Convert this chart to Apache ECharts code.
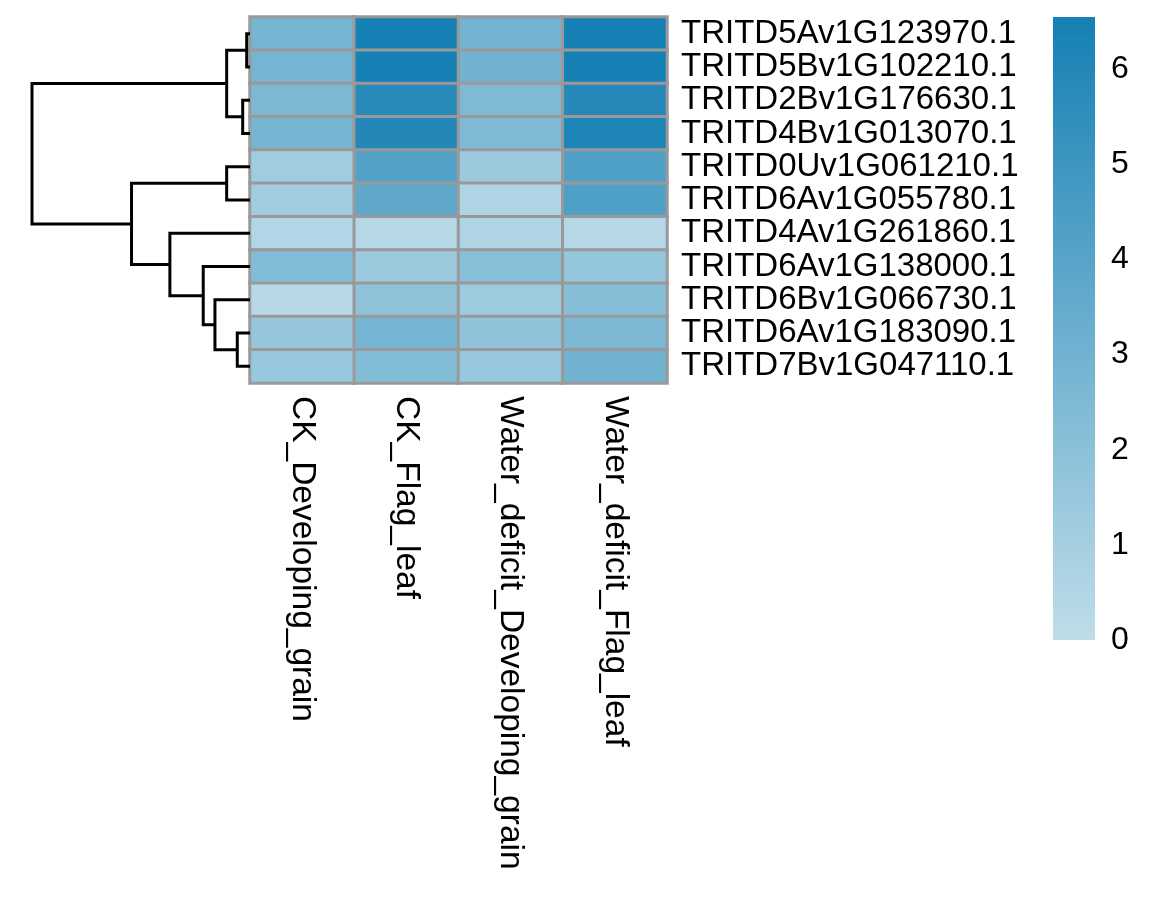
<!DOCTYPE html>
<html>
<head>
<meta charset="utf-8">
<script src="https://cdn.jsdelivr.net/npm/echarts@6/dist/echarts.min.js"></script>
<style>
html,body{margin:0;padding:0;background:#fff;}
#chart{width:1172px;height:898px;}
</style>
</head>
<body>
<div id="chart"></div>
<script>
// ---- data ----
var samples = ['CK_Developing_grain', 'CK_Flag_leaf', 'Water_deficit_Developing_grain', 'Water_deficit_Flag_leaf'];
var genes = ['TRITD5Av1G123970.1','TRITD5Bv1G102210.1','TRITD2Bv1G176630.1','TRITD4Bv1G013070.1','TRITD0Uv1G061210.1','TRITD6Av1G055780.1','TRITD4Av1G261860.1','TRITD6Av1G138000.1','TRITD6Bv1G066730.1','TRITD6Av1G183090.1','TRITD7Bv1G047110.1'];
// expression values per gene (row), in sample order
var CK_Developing_grain = [2.8, 2.8, 2.6, 2.8, 1.2, 1.1, 0.5, 2.3, 0.3, 1.6, 1.5];
var CK_Flag_leaf =        [6.5, 6.5, 5.8, 6.0, 4.2, 3.7, 0.4, 1.4, 1.8, 2.8, 2.3];
var WD_Developing_grain = [2.9, 3.0, 2.5, 2.5, 1.4, 0.6, 0.6, 2.1, 1.3, 1.8, 1.5];
var WD_Flag_leaf =        [6.5, 6.5, 5.9, 6.2, 4.3, 4.3, 0.4, 1.7, 2.2, 2.6, 3.0];
var colorTicks = [0, 1, 2, 3, 4, 5, 6];
var colorMax = 6.55;
// row dendrogram (hclust-style merges; negative = leaf in display order, 1-based)
var mergeLeft  = [-1, -3, 1, -5, -10, -9, -8, -7, 4, 3];
var mergeRight = [-2, -4, 2, -6, -11,  5,  6,  7, 8, 9];
var mergeHeight = [3.3, 7.3, 23.3, 23.3, 12.7, 35, 46.7, 80, 118.3, 217.7];

var lowColor = '#bfdde9', highColor = '#1580b4';
var FONT = 'Liberation Sans, Arial, sans-serif';

// build heatmap cells
var columns = [CK_Developing_grain, CK_Flag_leaf, WD_Developing_grain, WD_Flag_leaf];
var heatData = [];
for (var c = 0; c < columns.length; c++) {
  for (var r = 0; r < genes.length; r++) heatData.push([c, r, columns[c][r]]);
}

// build dendrogram links
var nodePos = [], nodeH = [];
function pos(i) { return i < 0 ? (-i - 1) + 0.5 : nodePos[i - 1]; }
function hgt(i) { return i < 0 ? 0 : nodeH[i - 1]; }
var links = [];
for (var m = 0; m < mergeLeft.length; m++) {
  var a = mergeLeft[m], b = mergeRight[m];
  var ya = pos(a), yb = pos(b);
  nodePos.push((ya + yb) / 2);
  nodeH.push(mergeHeight[m]);
  links.push([hgt(a), ya, mergeHeight[m], yb, hgt(b)]);
}

var chart = echarts.init(document.getElementById('chart'));
var option = {
  backgroundColor: '#ffffff',
  animation: false,
  grid: [
    {left: 250, top: 17, width: 417, height: 366},
    {left: 32, top: 17, width: 218, height: 366},
    {left: 1053, top: 17, width: 42, height: 623}
  ],
  xAxis: [
    {type: 'category', gridIndex: 0, data: samples, position: 'bottom',
     axisLine: {show: false}, axisTick: {show: false}, splitLine: {show: false},
     axisLabel: {rotate: -90, fontSize: 33.5, color: '#000', fontFamily: FONT, margin: 13, interval: 0}},
    {type: 'value', gridIndex: 1, min: 0, max: mergeHeight[mergeHeight.length - 1], inverse: true, show: false},
    {type: 'category', gridIndex: 2, data: ['scale'], show: false}
  ],
  yAxis: [
    {type: 'category', gridIndex: 0, data: genes, inverse: true, position: 'right',
     axisLine: {show: false}, axisTick: {show: false}, splitLine: {show: false},
     axisLabel: {fontSize: 33, color: '#000', fontFamily: FONT, margin: 14, interval: 0}},
    {type: 'value', gridIndex: 1, min: 0, max: genes.length, inverse: true, show: false},
    {type: 'value', gridIndex: 2, min: 0, max: colorMax, interval: 1, position: 'right',
     axisLine: {show: false}, axisTick: {show: false}, splitLine: {show: false},
     axisLabel: {fontSize: 32, color: '#000', fontFamily: FONT, margin: 16, showMaxLabel: false,
                 formatter: function (v) { return colorTicks.indexOf(v) >= 0 ? String(v) : ''; }}}
  ],
  visualMap: {
    type: 'continuous', show: false, min: 0, max: colorMax, seriesIndex: 0,
    inRange: {color: [lowColor, highColor]}
  },
  series: [
    {type: 'heatmap', xAxisIndex: 0, yAxisIndex: 0, data: heatData,
     itemStyle: {borderColor: '#999999', borderWidth: 3}},
    {type: 'custom', xAxisIndex: 1, yAxisIndex: 1, data: links, clip: false,
     renderItem: function (params, api) {
       var p1 = api.coord([api.value(0), api.value(1)]);
       var p2 = api.coord([api.value(2), api.value(1)]);
       var p3 = api.coord([api.value(2), api.value(3)]);
       var p4 = api.coord([api.value(4), api.value(3)]);
       return {type: 'polyline', shape: {points: [p1, p2, p3, p4]},
               style: {stroke: '#000', lineWidth: 3, fill: null, lineJoin: 'miter'}};
     }},
    {type: 'bar', xAxisIndex: 2, yAxisIndex: 2, data: [colorMax], barWidth: '100%',
     itemStyle: {color: new echarts.graphic.LinearGradient(0, 0, 0, 1, [
       {offset: 0, color: highColor}, {offset: 1, color: lowColor}])}}
  ]
};
chart.setOption(option);
</script>
</body>
</html>
